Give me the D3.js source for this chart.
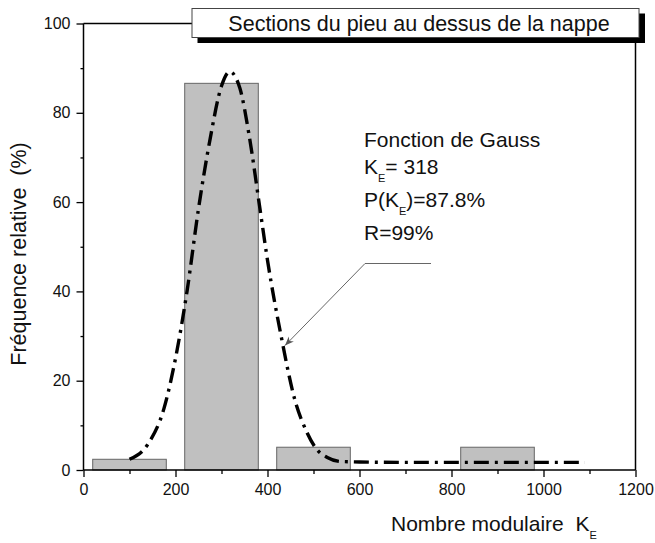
<!DOCTYPE html>
<html>
<head>
<meta charset="utf-8">
<script src="https://cdn.jsdelivr.net/npm/d3@7"></script>
<style>
  html, body { margin: 0; padding: 0; background: #fff; }
  svg { display: block; }
  text { font-family: "Liberation Sans", Arial, sans-serif; fill: #111; white-space: pre; }
</style>
</head>
<body>
<svg id="chart" width="655" height="543"></svg>
<script>
// ---- data ----
const binStart = [20, 220, 420, 820];
const binEnd   = [180, 380, 580, 980];
const freq     = [2.4, 86.6, 5.1, 5.1];

const gaussX = [100, 140, 175, 200, 225, 250, 275, 300, 318, 340, 360, 385, 400, 430, 460, 485, 505, 530, 560, 600, 700, 800, 900, 1000, 1090];
const gaussY = [2.4, 5.8, 13.8, 25, 40, 58.5, 74, 86, 89.2, 85.5, 75, 57.5, 47, 29.8, 15.5, 8.6, 4.9, 2.8, 1.9, 1.8, 1.7, 1.7, 1.7, 1.7, 1.7];

const xMajor = [0, 200, 400, 600, 800, 1000, 1200];
const xMinor = [100, 300, 500, 700, 900, 1100];
const yMajor = [0, 20, 40, 60, 80, 100];
const yMinor = [10, 30, 50, 70, 90];

const titleText = "Sections du pieu au dessus de la nappe";

// ---- layout ----
const svg = d3.select("#chart");
const x = d3.scaleLinear().domain([0, 1200]).range([83.5, 635.5]);
const y = d3.scaleLinear().domain([0, 100]).range([470, 23.5]);

// bars
svg.append("g").selectAll("rect").data(freq).join("rect")
  .attr("x", (d, i) => x(binStart[i]))
  .attr("width", (d, i) => x(binEnd[i]) - x(binStart[i]))
  .attr("y", d => y(d))
  .attr("height", d => y(0) - y(d))
  .attr("fill", "#c0c0c0")
  .attr("stroke", "#666")
  .attr("stroke-width", 1);

// gaussian curve
const pts = gaussX.map((v, i) => [v, gaussY[i]]);
svg.append("path")
  .attr("d", d3.line().x(d => x(d[0])).y(d => y(d[1])).curve(d3.curveMonotoneX)(pts))
  .attr("fill", "none")
  .attr("stroke", "#000")
  .attr("stroke-width", 3.4)
  .attr("stroke-dasharray", "15,6,3,6");

// axes
const gx = svg.append("g").attr("transform", `translate(0,${y(0)})`)
  .call(d3.axisBottom(x).tickValues(xMajor).tickSize(7).tickPadding(7).tickFormat(d3.format("d")));
svg.append("g").attr("transform", `translate(0,${y(0)})`)
  .call(d3.axisBottom(x).tickValues(xMinor).tickSize(4).tickFormat(""))
  .select(".domain").remove();
const gy = svg.append("g").attr("transform", `translate(${x(0)},0)`)
  .call(d3.axisLeft(y).tickValues(yMajor).tickSize(7).tickPadding(6).tickFormat(d3.format("d")));
svg.append("g").attr("transform", `translate(${x(0)},0)`)
  .call(d3.axisLeft(y).tickValues(yMinor).tickSize(3).tickFormat(""))
  .select(".domain").remove();

svg.selectAll(".domain").attr("stroke", "#000").attr("stroke-width", 1.5);
svg.selectAll(".tick line").attr("stroke", "#000").attr("stroke-width", 1.3);
svg.selectAll(".tick text").style("font-family", "'Liberation Sans', Arial, sans-serif")
  .style("font-size", "16px").attr("fill", "#111");
gx.select(".domain").attr("d", `M${x(0)},0H${x(1200)}`);
gy.select(".domain").attr("d", `M0,${y(0)}V${y(100)}`);

// top and right frame lines
svg.append("line").attr("x1", x(0)).attr("x2", 192).attr("y1", y(100)).attr("y2", y(100))
  .attr("stroke", "#000").attr("stroke-width", 1.5);
svg.append("line").attr("x1", x(1200)).attr("x2", x(1200)).attr("y1", 40).attr("y2", y(0))
  .attr("stroke", "#000").attr("stroke-width", 1.5);

// title box with shadow
svg.append("rect").attr("x", 197.5).attr("y", 13.5).attr("width", 447.5).attr("height", 29.5).attr("fill", "#000");
svg.append("rect").attr("x", 192).attr("y", 8.5).attr("width", 447).attr("height", 29)
  .attr("fill", "#fff").attr("stroke", "#444").attr("stroke-width", 1);
svg.append("text").attr("x", 419).attr("y", 31).attr("text-anchor", "middle")
  .style("font-size", "21.5px").text(titleText);

// annotation
const ann = svg.append("g").style("font-size", "21px");
ann.append("text").attr("x", 364).attr("y", 147).text("Fonction de Gauss");
const t2 = ann.append("text").attr("x", 364).attr("y", 173.5);
t2.append("tspan").text("K");
t2.append("tspan").attr("dy", 8).style("font-size", "11px").text("E");
t2.append("tspan").attr("dy", -8).text("= 318");
const t3 = ann.append("text").attr("x", 364).attr("y", 207);
t3.append("tspan").text("P(K");
t3.append("tspan").attr("dy", 8).style("font-size", "11px").text("E");
t3.append("tspan").attr("dy", -8).text(")=87.8%");
ann.append("text").attr("x", 364).attr("y", 240).text("R=99%");

// callout arrow
svg.append("defs").append("marker").attr("id", "arr")
  .attr("viewBox", "0 0 10 10").attr("refX", 10).attr("refY", 5)
  .attr("markerWidth", 9).attr("markerHeight", 9).attr("orient", "auto")
  .attr("markerUnits", "userSpaceOnUse")
  .append("path").attr("d", "M0,1 L10,5 L0,9 L3,5 Z").attr("fill", "#555");
svg.append("polyline").attr("points", `431,263.5 365,263.5 285,345.5`)
  .attr("fill", "none").attr("stroke", "#666").attr("stroke-width", 1)
  .attr("marker-end", "url(#arr)");

// axis titles
const xl = svg.append("text").attr("x", 391).attr("y", 531).style("font-size", "21px");
xl.append("tspan").text("Nombre modulaire  K");
xl.append("tspan").attr("dy", 8).style("font-size", "11px").text("E");

svg.append("text").attr("transform", "translate(26,254) rotate(-90)")
  .attr("text-anchor", "middle").style("font-size", "21.5px")
  .text("Fréquence relative  (%)");
</script>
</body>
</html>
